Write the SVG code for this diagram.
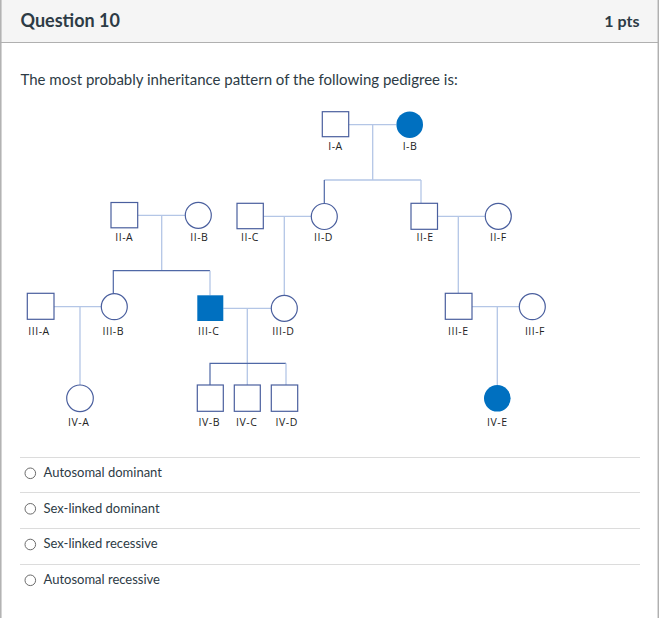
<svg xmlns="http://www.w3.org/2000/svg" width="659" height="618" viewBox="0 0 659 618">
<style>
.ui{font-family:Lato,"Open Sans","Liberation Sans",sans-serif;fill:#2d3b45}
.lbl{font-family:"Open Sans","Liberation Sans",sans-serif;font-size:10.5px;letter-spacing:0.5px;fill:#222;text-anchor:middle}
.m{fill:#fff;stroke:#4a5f9e;stroke-width:1.2}
.a{fill:#0070c0;stroke:none}
.ln{stroke:#b4c6e6;stroke-width:1.3;fill:none}
.dk{stroke:#4f68a6;stroke-width:1.2;fill:none}
.sep{stroke:#dcdcdc;stroke-width:1}
.rad{fill:#fff;stroke:#6b6b6b;stroke-width:1}
</style>
<rect x="0" y="0" width="659" height="618" fill="#fff"/>
<rect x="0" y="0" width="659" height="42" fill="#f5f5f5"/>
<line x1="0" y1="42.5" x2="659" y2="42.5" stroke="#b0b0b0" stroke-width="1.2"/>
<line x1="0.8" y1="0" x2="0.8" y2="618" stroke="#b0b0b0" stroke-width="1.5"/>
<line x1="658.3" y1="0" x2="658.3" y2="618" stroke="#b0b0b0" stroke-width="1.5"/>
<text class="ui" x="20.5" y="26.5" font-size="18" font-weight="700">Question 10</text>
<text class="ui" x="639.5" y="26.5" font-size="16" font-weight="700" text-anchor="end">1 pts</text>
<text class="ui" x="20.5" y="85" font-size="15">The most probably inheritance pattern of the following pedigree is:</text>

<g id="connectors">
<path class="ln" d="M349 124.7H396M372.7 124.7V180M324.3 180H421"/>
<path class="dk" d="M324.3 180V203.4"/>
<path class="ln" d="M421 180V203.3"/>
<path class="ln" d="M138 215.3H185M161.7 215.3V270.7"/>
<path class="dk" d="M113.3 294V270.7H210"/>
<path class="ln" d="M210 270.7V295.3"/>
<path class="ln" d="M263.3 216.3H311M284.3 216.3V295"/>
<path class="ln" d="M437.5 216.3H485M458.3 216.3V293.3"/>
<path class="ln" d="M54 306.7H101M80 306.7V385"/>
<path class="ln" d="M223.3 308.3H271M247.3 308.3V385"/>
<path class="dk" d="M210 385V363.3H286"/>
<path class="ln" d="M286 363.3V385"/>
<path class="ln" d="M472 306.7H519M497.3 306.7V385"/>
</g>

<g id="I-A"><rect class="m" x="322.3" y="111.7" width="26.4" height="25"/><text class="lbl" x="335.5" y="150">I-A</text></g>
<g id="I-B"><circle class="a" cx="409.7" cy="124.7" r="13.3"/><text class="lbl" x="410" y="150">I-B</text></g>

<g id="II-A"><rect class="m" x="111" y="202.5" width="26.7" height="25.3"/><text class="lbl" x="124.3" y="241">II-A</text></g>
<g id="II-B"><circle class="m" cx="198.3" cy="215.3" r="13"/><text class="lbl" x="199.3" y="241">II-B</text></g>
<g id="II-C"><rect class="m" x="237" y="203.3" width="26.3" height="25.4"/><text class="lbl" x="250" y="241">II-C</text></g>
<g id="II-D"><circle class="m" cx="324.3" cy="216.5" r="13"/><text class="lbl" x="323.5" y="241">II-D</text></g>
<g id="II-E"><rect class="m" x="411" y="203.3" width="26.5" height="26"/><text class="lbl" x="425" y="241">II-E</text></g>
<g id="II-F"><circle class="m" cx="498.3" cy="216.3" r="13"/><text class="lbl" x="498.3" y="241">II-F</text></g>

<g id="III-A"><rect class="m" x="27.3" y="293.3" width="26.7" height="26"/><text class="lbl" x="39" y="334.5">III-A</text></g>
<g id="III-B"><circle class="m" cx="114.3" cy="306.7" r="13"/><text class="lbl" x="113.3" y="334.5">III-B</text></g>
<g id="III-C"><rect class="a" x="197.3" y="295.3" width="26" height="25.7"/><text class="lbl" x="208.7" y="334.5">III-C</text></g>
<g id="III-D"><circle class="m" cx="284.3" cy="308.3" r="13"/><text class="lbl" x="283.3" y="334.5">III-D</text></g>
<g id="III-E"><rect class="m" x="445.3" y="293.3" width="26.7" height="26"/><text class="lbl" x="458.3" y="334.5">III-E</text></g>
<g id="III-F"><circle class="m" cx="532.3" cy="306.7" r="13"/><text class="lbl" x="535" y="334.5">III-F</text></g>

<g id="IV-A"><circle class="m" cx="80" cy="398.3" r="13.3"/><text class="lbl" x="78.7" y="426">IV-A</text></g>
<g id="IV-B"><rect class="m" x="197.3" y="385" width="26" height="26.3"/><text class="lbl" x="209.3" y="426">IV-B</text></g>
<g id="IV-C"><rect class="m" x="234.3" y="385" width="26" height="26.3"/><text class="lbl" x="246.7" y="426">IV-C</text></g>
<g id="IV-D"><rect class="m" x="271.3" y="385" width="26.4" height="26.3"/><text class="lbl" x="286.7" y="426">IV-D</text></g>
<g id="IV-E"><circle class="a" cx="497.3" cy="398.3" r="13.3"/><text class="lbl" x="497.3" y="426">IV-E</text></g>

<g id="options">
<line class="sep" x1="20" y1="457.5" x2="640" y2="457.5"/>
<line class="sep" x1="20" y1="492.5" x2="640" y2="492.5"/>
<line class="sep" x1="20" y1="528.5" x2="640" y2="528.5"/>
<line class="sep" x1="20" y1="564.5" x2="640" y2="564.5"/>
<circle class="rad" cx="30.3" cy="473.3" r="5.3"/>
<text class="ui" x="43.5" y="477" font-size="13">Autosomal dominant</text>
<circle class="rad" cx="30.3" cy="508.8" r="5.3"/>
<text class="ui" x="43.5" y="512.5" font-size="13">Sex-linked dominant</text>
<circle class="rad" cx="30.3" cy="544.5" r="5.3"/>
<text class="ui" x="43.5" y="548" font-size="13">Sex-linked recessive</text>
<circle class="rad" cx="30.3" cy="580.3" r="5.3"/>
<text class="ui" x="43.5" y="584" font-size="13">Autosomal recessive</text>
</g>
</svg>
